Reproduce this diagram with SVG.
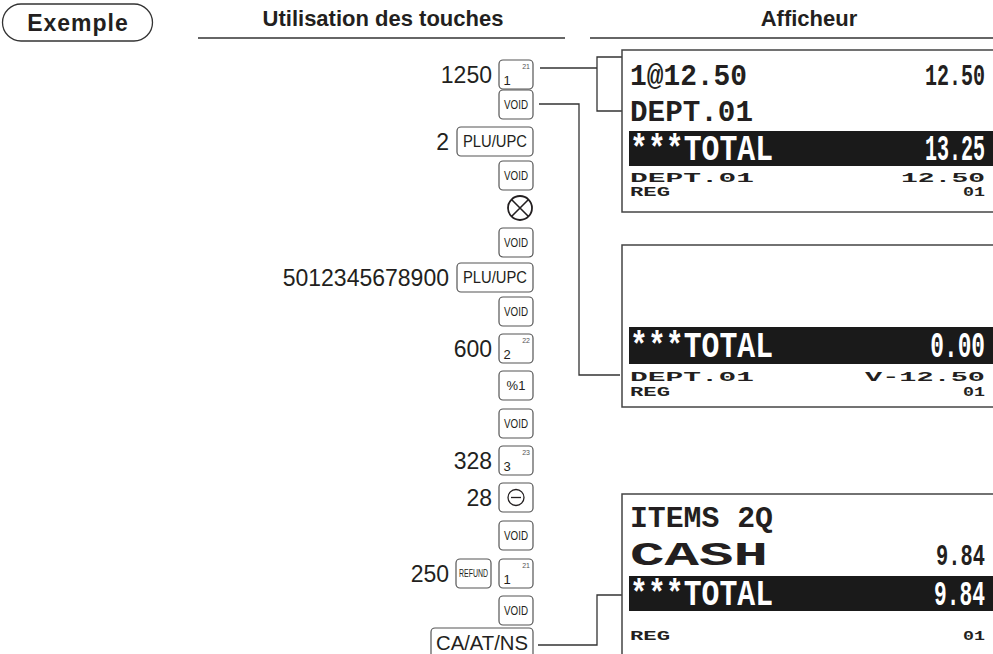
<svg xmlns="http://www.w3.org/2000/svg" width="993" height="654" viewBox="0 0 993 654">
<style>
.hd{font-family:"Liberation Sans",Arial,sans-serif;font-weight:bold;fill:#231f20}
.num{font-family:"Liberation Sans",Arial,sans-serif;font-size:23px;fill:#231f20;text-anchor:end}
.key{fill:#fff;stroke:#555;stroke-width:1.2}
.kl{font-family:"Liberation Sans",Arial,sans-serif;fill:#231f20;text-anchor:middle}
.sup{font-family:"Liberation Sans",Arial,sans-serif;font-size:7px;fill:#555;text-anchor:end}
.box{fill:#fff;stroke:#444;stroke-width:1.5}
.band{fill:#1a1a1a}
.lcd{font-family:"Liberation Mono","Courier New",monospace;font-weight:bold;fill:#231f20}
.big{font-size:30px}
.tot{font-size:36px;fill:#fff}
.sm{font-size:12.5px}
.r{text-anchor:end}
.conn{fill:none;stroke:#333;stroke-width:1.3}
.rule{stroke:#333;stroke-width:1.5}
</style>

<g id="header">
  <rect x="2.5" y="4" width="150" height="37" rx="18.5" fill="#fff" stroke="#333" stroke-width="1.3"/>
  <text class="hd" x="78" y="31" font-size="23" text-anchor="middle" letter-spacing="1">Exemple</text>
  <text class="hd" x="383" y="26" font-size="22" text-anchor="middle">Utilisation des touches</text>
  <line class="rule" x1="198" y1="38" x2="565" y2="38"/>
  <text class="hd" x="809" y="26" font-size="22" text-anchor="middle">Afficheur</text>
  <line class="rule" x1="590" y1="38" x2="993" y2="38"/>
</g>

<g id="connectors">
  <path class="conn" d="M540,68 H597"/>
  <path class="conn" d="M622,57 H597 V111 H622"/>
  <path class="conn" d="M539,104 H579 V375 H620"/>
  <path class="conn" d="M538,645 H597 V595 H622"/>
</g>

<g id="k1">
  <text class="num" x="492" y="83">1250</text>
  <rect class="key" x="499" y="60" width="34" height="29" rx="4"/>
  <text class="kl" x="507" y="85" font-size="13">1</text>
  <text class="sup" x="530" y="69">21</text>
</g>
<g id="k2">
  <rect class="key" x="499" y="90" width="34" height="29" rx="4"/>
  <text class="kl" x="516" y="109" font-size="13" textLength="24" lengthAdjust="spacingAndGlyphs">VOID</text>
</g>
<g id="k3">
  <text class="num" x="449" y="150">2</text>
  <rect class="key" x="457" y="127" width="76" height="29" rx="4"/>
  <text class="kl" x="495" y="147" font-size="16" textLength="64" lengthAdjust="spacingAndGlyphs">PLU/UPC</text>
</g>
<g id="k4">
  <rect class="key" x="499" y="161" width="34" height="29" rx="4"/>
  <text class="kl" x="516" y="180" font-size="13" textLength="24" lengthAdjust="spacingAndGlyphs">VOID</text>
</g>
<g id="k5">
  <circle cx="520" cy="208" r="12" fill="#fff" stroke="#231f20" stroke-width="1.8"/>
  <path d="M511.5,199.5 L528.5,216.5 M528.5,199.5 L511.5,216.5" stroke="#231f20" stroke-width="1.6"/>
</g>
<g id="k6">
  <rect class="key" x="499" y="228" width="34" height="29" rx="4"/>
  <text class="kl" x="516" y="247" font-size="13" textLength="24" lengthAdjust="spacingAndGlyphs">VOID</text>
</g>
<g id="k7">
  <text class="num" x="449" y="286">5012345678900</text>
  <rect class="key" x="457" y="263" width="76" height="29" rx="4"/>
  <text class="kl" x="495" y="283" font-size="16" textLength="64" lengthAdjust="spacingAndGlyphs">PLU/UPC</text>
</g>
<g id="k8">
  <rect class="key" x="499" y="297" width="34" height="29" rx="4"/>
  <text class="kl" x="516" y="316" font-size="13" textLength="24" lengthAdjust="spacingAndGlyphs">VOID</text>
</g>
<g id="k9">
  <text class="num" x="492" y="357">600</text>
  <rect class="key" x="499" y="334" width="34" height="29" rx="4"/>
  <text class="kl" x="507" y="359" font-size="13">2</text>
  <text class="sup" x="530" y="343">22</text>
</g>
<g id="k10">
  <rect class="key" x="499" y="371" width="34" height="29" rx="4"/>
  <text class="kl" x="516" y="390" font-size="13">%1</text>
</g>
<g id="k11">
  <rect class="key" x="499" y="409" width="34" height="29" rx="4"/>
  <text class="kl" x="516" y="428" font-size="13" textLength="24" lengthAdjust="spacingAndGlyphs">VOID</text>
</g>
<g id="k12">
  <text class="num" x="492" y="469">328</text>
  <rect class="key" x="499" y="446" width="34" height="29" rx="4"/>
  <text class="kl" x="507" y="471" font-size="13">3</text>
  <text class="sup" x="530" y="455">23</text>
</g>
<g id="k13">
  <text class="num" x="492" y="506">28</text>
  <rect class="key" x="499" y="483" width="34" height="29" rx="4"/>
  <circle cx="516" cy="497.5" r="8" fill="none" stroke="#231f20" stroke-width="1.3"/>
  <line x1="511" y1="497.5" x2="521" y2="497.5" stroke="#231f20" stroke-width="1.3"/>
</g>
<g id="k14">
  <rect class="key" x="499" y="521" width="34" height="29" rx="4"/>
  <text class="kl" x="516" y="540" font-size="13" textLength="24" lengthAdjust="spacingAndGlyphs">VOID</text>
</g>
<g id="k15">
  <text class="num" x="449" y="582">250</text>
  <rect class="key" x="456" y="559" width="35" height="29" rx="4"/>
  <text class="kl" x="473.5" y="577" font-size="11" textLength="29" lengthAdjust="spacingAndGlyphs">REFUND</text>
  <rect class="key" x="499" y="559" width="34" height="29" rx="4"/>
  <text class="kl" x="507" y="584" font-size="13">1</text>
  <text class="sup" x="530" y="568">21</text>
</g>
<g id="k16">
  <rect class="key" x="499" y="596" width="34" height="29" rx="4"/>
  <text class="kl" x="516" y="615" font-size="13" textLength="24" lengthAdjust="spacingAndGlyphs">VOID</text>
</g>
<g id="k17">
  <rect class="key" x="431" y="628" width="102" height="30" rx="4"/>
  <text class="kl" x="482" y="650" font-size="21" textLength="92" lengthAdjust="spacingAndGlyphs">CA/AT/NS</text>
</g>

<g id="display1">
  <rect class="box" x="622" y="50" width="372" height="162"/>
  <text class="lcd big" x="630" y="85" textLength="117" lengthAdjust="spacingAndGlyphs">1@12.50</text>
  <text class="lcd big r" transform="translate(985,85) scale(0.667,1)">12.50</text>
  <text class="lcd big" x="630" y="121" textLength="123" lengthAdjust="spacingAndGlyphs">DEPT.01</text>
  <rect class="band" x="629" y="131" width="364" height="35"/>
  <text class="lcd tot" x="630" y="160" textLength="143" lengthAdjust="spacingAndGlyphs">***TOTAL</text>
  <text class="lcd tot r" transform="translate(985,160) scale(0.556,1)">13.25</text>
  <text class="lcd sm" x="630" y="182" textLength="124" lengthAdjust="spacingAndGlyphs">DEPT.01</text>
  <text class="lcd sm" x="901" y="182" textLength="84" lengthAdjust="spacingAndGlyphs">12.50</text>
  <text class="lcd sm" x="630" y="196" textLength="40" lengthAdjust="spacingAndGlyphs">REG</text>
  <text class="lcd sm" x="963" y="196" textLength="22" lengthAdjust="spacingAndGlyphs">01</text>
</g>

<g id="display2">
  <rect class="box" x="622" y="245" width="372" height="162"/>
  <rect class="band" x="629" y="327" width="364" height="37"/>
  <text class="lcd tot" x="630" y="357" textLength="143" lengthAdjust="spacingAndGlyphs">***TOTAL</text>
  <text class="lcd tot r" transform="translate(985,357) scale(0.633,1)">0.00</text>
  <text class="lcd sm" x="630" y="381" textLength="124" lengthAdjust="spacingAndGlyphs">DEPT.01</text>
  <text class="lcd sm" x="865" y="381" textLength="120" lengthAdjust="spacingAndGlyphs">V-12.50</text>
  <text class="lcd sm" x="630" y="396" textLength="40" lengthAdjust="spacingAndGlyphs">REG</text>
  <text class="lcd sm" x="963" y="396" textLength="22" lengthAdjust="spacingAndGlyphs">01</text>
</g>

<g id="display3">
  <rect class="box" x="622" y="494" width="372" height="170"/>
  <text class="lcd big" x="630" y="527" textLength="143" lengthAdjust="spacingAndGlyphs">ITEMS 2Q</text>
  <text class="lcd" x="630" y="565" font-size="34" textLength="138" lengthAdjust="spacingAndGlyphs">CASH</text>
  <text class="lcd big r" transform="translate(985,565) scale(0.68,1)">9.84</text>
  <rect class="band" x="629" y="576" width="364" height="35"/>
  <text class="lcd tot" x="630" y="605" textLength="143" lengthAdjust="spacingAndGlyphs">***TOTAL</text>
  <text class="lcd tot r" transform="translate(985,605) scale(0.59,1)">9.84</text>
  <text class="lcd sm" x="630" y="640" textLength="40" lengthAdjust="spacingAndGlyphs">REG</text>
  <text class="lcd sm" x="963" y="640" textLength="22" lengthAdjust="spacingAndGlyphs">01</text>
</g>
</svg>
